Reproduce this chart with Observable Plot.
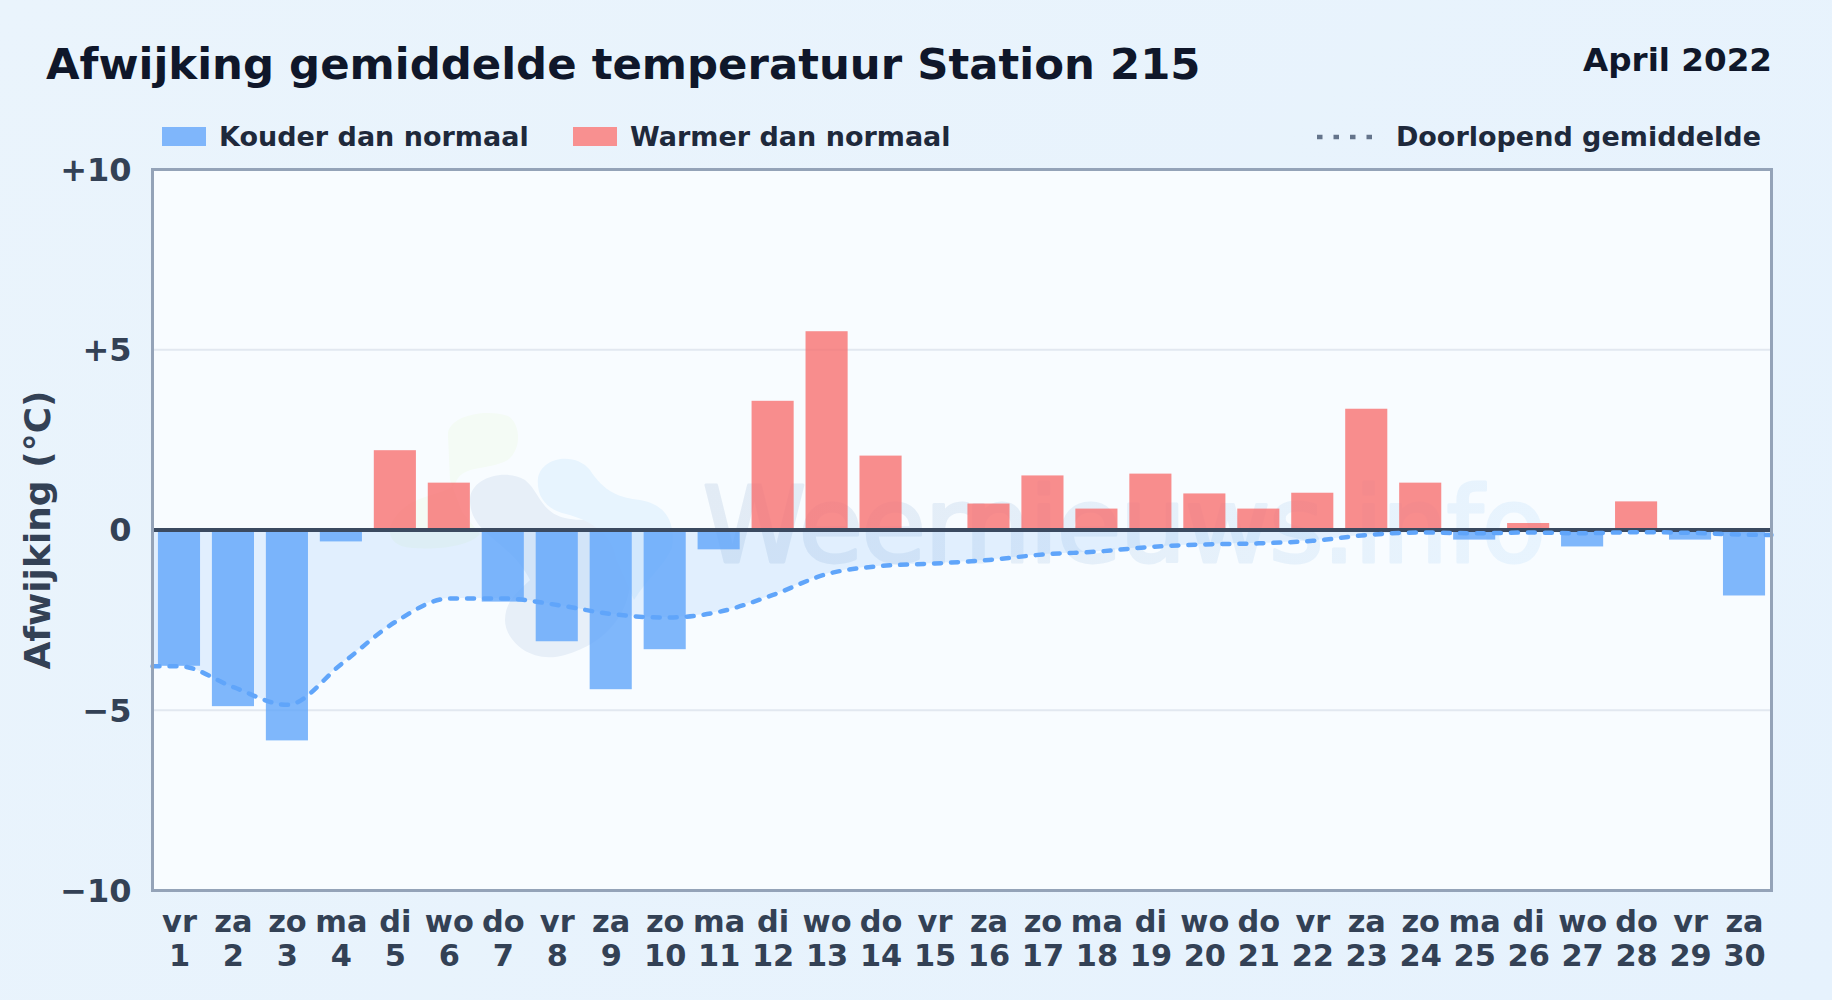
<!DOCTYPE html>
<html><head><meta charset="utf-8">
<script src="https://cdn.jsdelivr.net/npm/d3@7"></script>
<script src="https://cdn.jsdelivr.net/npm/@observablehq/plot@0.6"></script>
<style>
html,body{margin:0;padding:0}
body{width:1832px;height:1000px;position:relative;overflow:hidden;background:linear-gradient(135deg,#eaf4fc,#e6f2fd);font-family:"DejaVu Sans",sans-serif;font-weight:700}
.h{position:absolute;white-space:nowrap;line-height:1}
#chart{position:absolute;left:0;top:140px}
.sw{position:absolute;width:44px;height:19px;top:127px}
.wm text{letter-spacing:-1.6px}
</style></head><body>
<div class="h" style="left:46px;top:43px;font-size:43.4px;color:#0f172a" id="title">Afwijking gemiddelde temperatuur Station 215</div>
<div class="h" style="right:60px;top:44px;font-size:32.6px;color:#0f172a" id="period">April 2022</div>
<div class="sw" style="left:162px;background:#7fb6fb"></div>
<div class="h" style="left:219px;top:123px;font-size:27px;color:#1e293b">Kouder dan normaal</div>
<div class="sw" style="left:573px;background:#f89090"></div>
<div class="h" style="left:630px;top:123px;font-size:27px;color:#1e293b">Warmer dan normaal</div>
<svg style="position:absolute;left:1310px;top:130px" width="70" height="14"><line x1="7" x2="64" y1="7" y2="7" stroke="#64748b" stroke-width="4.5" stroke-dasharray="5.5 11"/></svg>
<div class="h" style="right:71px;top:123px;font-size:27px;color:#1e293b">Doorlopend gemiddelde</div>
<div id="chart"></div>
<script>
const days = d3.range(1, 31);
const weekdays = ["vr","za","zo","ma","di","wo","do","vr","za","zo","ma","di","wo","do","vr","za","zo","ma","di","wo","do","vr","za","zo","ma","di","wo","do","vr","za"];
const deviations = [-3.78,-4.9,-5.85,-0.33,2.2,1.3,-2.0,-3.1,-4.43,-3.32,-0.55,3.57,5.5,2.05,0,0.72,1.5,0.58,1.55,1.0,0.58,1.02,3.35,1.3,-0.28,0.18,-0.47,0.78,-0.28,-1.83];
const meanDays = [0.5].concat(days, [30.5]);
const meanValues = [-3.78,-3.78,-4.36,-4.85,-3.72,-2.55,-1.9,-1.9,-2.08,-2.33,-2.43,-2.27,-1.8,-1.22,-1.0,-0.93,-0.83,-0.68,-0.6,-0.47,-0.4,-0.37,-0.3,-0.14,-0.07,-0.09,-0.07,-0.09,-0.06,-0.08,-0.13,-0.14];
const yTicks = [-10,-5,0,5,10];
const blue = "#60a5fa", red = "#f87171", ink = "#334155";
const bars = days.map((day,i)=>({day, v:deviations[i]}));
const mean = meanDays.map((day,i)=>({day, v:meanValues[i]}));
const fmtY = v => v===0 ? "0" : (v>0 ? "+"+v : "\u2212"+Math.abs(v));

// Faint logo and gradient for the watermark: a decorative background, not data.
const logo = () => {
  const g = d3.create("svg:g").attr("transform","translate(0,-140)");
  const lg = g.append("linearGradient").attr("id","wm").attr("x1",0).attr("x2",1).attr("y1",0).attr("y2",0);
  lg.append("stop").attr("offset",0).attr("stop-color","#e2ebf5");
  lg.append("stop").attr("offset",1).attr("stop-color","#e8f4fe");
  [["M448 436C446 416 486 408 508 416C522 424 522 454 504 462C484 470 462 466 456 482C450 494 420 494 404 508C384 524 384 546 412 548C440 550 470 546 480 534L462 512L450 480Z","#f4fbf5"],
   ["M470 500C470 478 505 468 525 480C540 492 540 512 565 518C585 523 605 515 612 528L625 560C640 590 620 640 565 655C530 665 505 640 505 620C505 600 520 590 530 580C510 540 470 535 470 500Z","#e7eff8"],
   ["M538 478C542 456 576 452 590 470C604 492 620 498 640 500C664 504 676 520 672 548C664 566 646 580 634 600L616 560C612 534 590 520 566 514C548 510 536 498 538 478Z","#e7f4fe"]]
  .forEach(([d,f]) => g.append("path").attr("d",d).attr("fill",f));
  return g.node();
};

const chart = Plot.plot({
  width:1832, height:860,
  marginLeft:152, marginRight:61, marginTop:29, marginBottom:110,
  style:{background:"transparent", fontFamily:"DejaVu Sans", overflow:"visible"},
  x:{domain:[0.5,30.5]},
  y:{domain:[-10,10]},
  marks:[
    Plot.frame({fill:"#f8fcff", stroke:null}),
    logo,
    Plot.text(["Weernieuws.info"],{className:"wm", frameAnchor:"top-left", dx:550, dy:318, fontSize:105, fontWeight:400, fill:"url(#wm)", stroke:"url(#wm)", strokeWidth:3, textAnchor:"start", lineAnchor:"top"}),
    Plot.ruleY([-5,5],{stroke:"#e2e8f0", strokeWidth:2}),
    Plot.areaY(mean,{x:"day", y1:0, y2:"v", curve:"monotone-x", fill:blue, fillOpacity:0.15}),
    Plot.rect(bars.filter(d=>d.v<0),{x1:d=>d.day-0.39, x2:d=>d.day+0.39, y1:0, y2:"v", fill:blue, fillOpacity:0.8}),
    Plot.rect(bars.filter(d=>d.v>0),{x1:d=>d.day-0.39, x2:d=>d.day+0.39, y1:0, y2:"v", fill:red, fillOpacity:0.8}),
    Plot.ruleY([0],{stroke:"#3b4a60", strokeWidth:4}),
    Plot.line(mean,{x:"day", y:"v", curve:"monotone-x", stroke:blue, strokeWidth:4.5, strokeDasharray:"7 10", strokeLinecap:"round"}),
    Plot.frame({stroke:"#94a3b8", strokeWidth:3, fill:"none"}),
    Plot.axisY({ticks:yTicks, tickSize:0, tickPadding:21, tickFormat:fmtY, fontSize:32, fontWeight:700, color:ink, label:null, dy:1}),
    Plot.axisX({ticks:days, tickSize:0, tickPadding:17, tickFormat:d=>weekdays[d-1]+"\n"+d, fontSize:30.4, fontWeight:700, color:ink, label:null, lineHeight:1.12}),
    Plot.text(["Afwijking (\u00b0C)"],{frameAnchor:"left", dx:-114, rotate:-90, fontSize:36, fontWeight:700, fill:ink, textAnchor:"middle"})
  ]
});
document.getElementById("chart").appendChild(chart);
</script>
</body></html>
